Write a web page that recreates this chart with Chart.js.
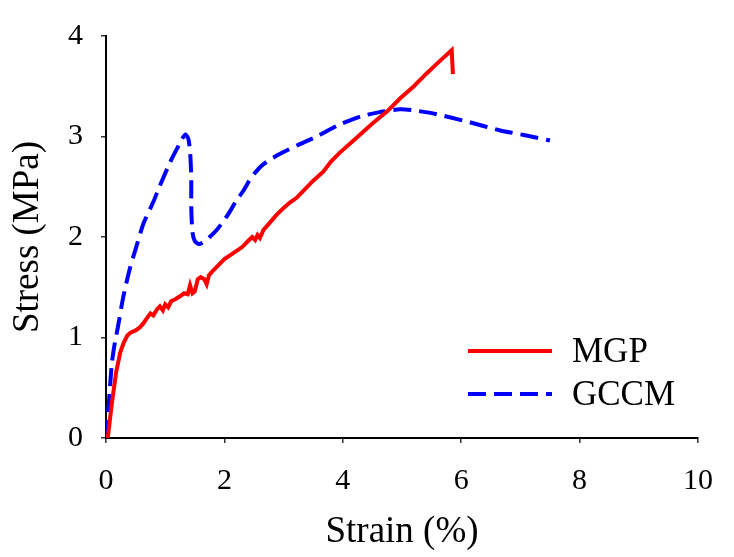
<!DOCTYPE html>
<html>
<head>
<meta charset="utf-8">
<script src="https://cdn.jsdelivr.net/npm/chart.js@4"></script>
<style>
html,body{margin:0;padding:0;background:#fff;}
canvas{display:block;}
</style>
</head>
<body>
<canvas id="c" width="734" height="557"></canvas>
<script>
// ---- data ----
const mgpStrain = [0.03,0.1,0.17,0.24,0.3,0.36,0.42,0.5,0.57,0.63,0.7,0.75,0.8,0.86,0.91,0.96,1.0,1.05,1.1,1.17,1.25,1.32,1.38,1.42,1.46,1.5,1.55,1.6,1.66,1.7,1.74,1.8,1.9,2.0,2.1,2.2,2.3,2.4,2.47,2.52,2.56,2.6,2.66,2.75,2.88,3.0,3.1,3.22,3.35,3.5,3.67,3.8,3.95,4.2,4.5,4.75,4.97,5.2,5.42,5.6,5.84,5.86];
const mgpStress = [0,0.35,0.65,0.85,0.95,1.02,1.05,1.07,1.1,1.14,1.2,1.24,1.22,1.28,1.31,1.27,1.33,1.3,1.36,1.38,1.41,1.44,1.43,1.52,1.44,1.46,1.58,1.6,1.58,1.53,1.62,1.66,1.72,1.78,1.82,1.86,1.9,1.96,2.0,1.97,2.02,1.99,2.07,2.13,2.22,2.29,2.34,2.39,2.47,2.56,2.65,2.75,2.84,2.97,3.13,3.25,3.38,3.5,3.63,3.73,3.86,3.62];

const gccmStrain = [0,0.03,0.07,0.1,0.15,0.2,0.29,0.4,0.5,0.63,0.8,0.91,1.08,1.2,1.28,1.34,1.39,1.42,1.44,1.44,1.46,1.5,1.57,1.65,1.75,1.87,2.0,2.1,2.2,2.32,2.43,2.52,2.65,2.8,2.95,3.22,3.56,3.95,4.3,4.6,4.97,5.2,5.52,6.09,6.66,7.1,7.5];
const gccmStress = [0,0.2,0.53,0.75,0.95,1.1,1.4,1.68,1.88,2.13,2.35,2.51,2.74,2.88,2.97,3.02,2.98,2.85,2.6,2.3,2.05,1.96,1.93,1.95,2.0,2.07,2.17,2.26,2.36,2.46,2.57,2.64,2.72,2.78,2.83,2.91,3.0,3.12,3.2,3.24,3.27,3.26,3.23,3.15,3.06,3.01,2.96];

const xTicks = [0,2,4,6,8,10];
const yTicks = [0,1,2,3,4];
const seriesNames = ['MGP','GCCM'];
const seriesColors = ['#ff0000','#0000ff'];
const xTitle = 'Strain (%)';
const yTitle = 'Stress (MPa)';

const FONT = "'Liberation Serif','Times New Roman',serif";

const toPts = (xs, ys) => xs.map((x, i) => ({x: x, y: ys[i]}));

const legendPlugin = {
  id: 'customLegend',
  afterDatasetsDraw(chart) {
    const ctx = chart.ctx;
    const items = chart.data.datasets;
    const x0 = 468, x1 = 552, tx = 572;
    const ys = [351, 394];
    ctx.save();
    items.forEach((ds, i) => {
      ctx.beginPath();
      ctx.strokeStyle = ds.borderColor;
      ctx.lineWidth = ds.borderWidth;
      ctx.setLineDash(ds.borderDash || []);
      ctx.lineCap = 'butt';
      ctx.moveTo(x0, ys[i]);
      ctx.lineTo(x1, ys[i]);
      ctx.stroke();
      ctx.setLineDash([]);
      ctx.fillStyle = '#000';
      ctx.font = '35px ' + FONT;
      ctx.textAlign = 'left';
      ctx.textBaseline = 'middle';
      ctx.fillText(ds.label, tx, ys[i] + 2);
    });
    ctx.restore();
  }
};

new Chart(document.getElementById('c'), {
  type: 'scatter',
  data: {
    datasets: [
      {
        label: seriesNames[0],
        data: toPts(mgpStrain, mgpStress),
        showLine: true,
        borderColor: seriesColors[0],
        backgroundColor: seriesColors[0],
        borderWidth: 4,
        pointRadius: 0,
        tension: 0
      },
      {
        label: seriesNames[1],
        data: toPts(gccmStrain, gccmStress),
        showLine: true,
        borderColor: seriesColors[1],
        backgroundColor: seriesColors[1],
        borderWidth: 4,
        borderDash: [18, 8],
        pointRadius: 0,
        tension: 0.2
      }
    ]
  },
  options: {
    responsive: false,
    animation: false,
    layout: {padding: {left: 0, right: 36, top: 22, bottom: 0}},
    plugins: {legend: {display: false}, tooltip: {enabled: false}},
    scales: {
      x: {
        type: 'linear',
        min: 0, max: 10,
        afterBuildTicks: (s) => { s.ticks = xTicks.map(v => ({value: v})); },
        afterFit: (s) => { s.height = 119; },
        grid: {display: true, drawOnChartArea: false, drawTicks: true, tickLength: 5, color: '#333', lineWidth: 1.5},
        border: {display: true, color: '#000', width: 2},
        ticks: {color: '#000', font: {family: FONT, size: 30}, padding: 20, maxRotation: 0},
        title: {display: true, text: xTitle, color: '#000', font: {family: FONT, size: 37, lineHeight: 1.2}, padding: {top: 0, bottom: 3}}
      },
      y: {
        type: 'linear',
        min: 0, max: 4,
        afterBuildTicks: (s) => { s.ticks = yTicks.map(v => ({value: v})); },
        afterFit: (s) => { s.width = 106; },
        grid: {display: true, drawOnChartArea: false, drawTicks: true, tickLength: 5, color: '#333', lineWidth: 1.5},
        border: {display: true, color: '#000', width: 2},
        ticks: {color: '#000', font: {family: FONT, size: 30}, padding: 18},
        title: {display: true, text: yTitle, color: '#000', font: {family: FONT, size: 37, lineHeight: 1.2}, padding: {top: 6, bottom: 0}}
      }
    }
  },
  plugins: [legendPlugin]
});
</script>
</body>
</html>
